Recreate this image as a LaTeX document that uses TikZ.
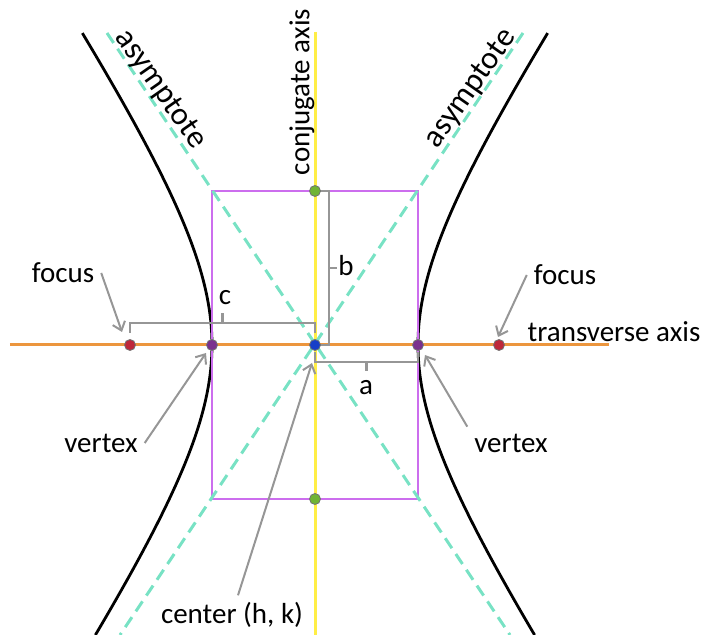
\documentclass[tikz,border=0pt]{standalone}
\usepackage{fontspec}
\setmainfont{Carlito}
\usetikzlibrary{arrows.meta,positioning,calc}
\definecolor{axisorange}{RGB}{236,150,62}
\definecolor{axisyellow}{RGB}{255,238,70}
\definecolor{boxviolet}{RGB}{204,110,238}
\definecolor{asymgreen}{RGB}{120,226,196}
\definecolor{focusred}{RGB}{190,40,58}
\definecolor{vertexpurple}{RGB}{122,48,142}
\definecolor{centerblue}{RGB}{22,62,200}
\definecolor{covgreen}{RGB}{112,180,52}
\definecolor{bracketgray}{RGB}{150,150,150}

\begin{document}
\begin{tikzpicture}[x=0.5pt, y=0.5pt, font=\fontsize{14.5}{17}\selectfont]
    \tikzstyle{dot}=[circle, draw=black!55, line width=0.4pt, inner sep=0pt, minimum size=5.5pt]
    \tikzstyle{pointer}=[draw=bracketgray, line width=1pt, -{Straight Barb[length=4pt, width=6.5pt, line width=1pt]}]
    \tikzstyle{bracket}=[draw=bracketgray, line width=1.4pt]
    \tikzstyle{branch}=[line width=1.4pt, domain=-1.39:1.455, samples=80, variable=\t]
    \tikzstyle{asymlbl}=[anchor=base, inner sep=0pt, font=\fontsize{16}{19}\selectfont]
    \useasboundingbox (-315,-290) rectangle (392,345);
    % hyperbola
    \draw[branch] plot ({103*cosh(\t)}, {154*sinh(\t)});
    \draw[branch] plot ({-103*cosh(\t)}, {154*sinh(\t)});
    % box and axes
    \draw[boxviolet, line width=1pt] (-103,-154) rectangle (103,154);
    \draw[axisorange, line width=1.5pt] (-305,0) -- (294,0);
    \draw[axisyellow, line width=1.5pt] (0,313) -- (0,-290);
    \draw[asymgreen, line width=1.5pt, dash pattern=on 6pt off 3.5pt] (-208,312) -- (195,-290);
    \draw[asymgreen, line width=1.5pt, dash pattern=on 6pt off 3.5pt] (208,312) -- (-195,-290);
    % brackets
    \draw[bracket] (-185,12) -- (-185,22) -- (0,22) -- (0,12);
    \draw[bracket] (-92.5,22) -- (-92.5,32);
    \draw[bracket] (0,154) -- (14,154) -- (14,0) -- (5,0);
    \draw[bracket] (14,77) -- (22,77);
    \draw[bracket] (0,-7) -- (0,-17) -- (103,-17) -- (103,-7);
    \draw[bracket] (51.5,-17) -- (51.5,-26);
    \node (clbl) at (-90,47) {c};
    \node (blbl) at (31,79) {b};
    \node (albl) at (51,-43) {a};
    % points
    \node[dot, fill=focusred] (focL) at (-185,0) {};
    \node[dot, fill=focusred] (focR) at (184,0) {};
    \node[dot, fill=vertexpurple] (verL) at (-103,0) {};
    \node[dot, fill=vertexpurple] (verR) at (103,0) {};
    \node[dot, fill=centerblue] (ctr) at (0,0) {};
    \node[dot, fill=covgreen] (covT) at (0,154) {};
    \node[dot, fill=covgreen] (covB) at (0,-154) {};
    % labels
    \node[rotate=90] (conj) at (-13,253) {conjugate axis};
    \node[asymlbl, rotate=-55] (asymL) at (-161,251) {asymptote};
    \node[asymlbl, rotate=55] (asymR) at (162,252) {asymptote};
    \node (trans) at (299,13) {transverse axis};
    \node (focusL) at (-252,72) {focus};
    \node (focusR) at (250,70) {focus};
    \node (vertexL) at (-214,-98) {vertex};
    \node (vertexR) at (196,-98) {vertex};
    \node (center) at (-83,-270) {center (h, k)};
    % pointers
    \coordinate (tipFL) at (-193,13);
    \coordinate (tipFR) at (183,8);
    \coordinate (tipVL) at (-109,-8);
    \coordinate (tipVR) at (110,-10);
    \coordinate (tipC) at (-3,-18);
    \draw[pointer] (focusL.east) -- (tipFL);
    \draw[pointer] (focusR.west) -- (tipFR);
    \draw[pointer] (vertexL.east) -- (tipVL);
    \draw[pointer] (vertexR.north west) -- (tipVR);
    \draw[pointer] ($(center.north)+(6,0)$) -- (tipC);
\end{tikzpicture}
\end{document}
